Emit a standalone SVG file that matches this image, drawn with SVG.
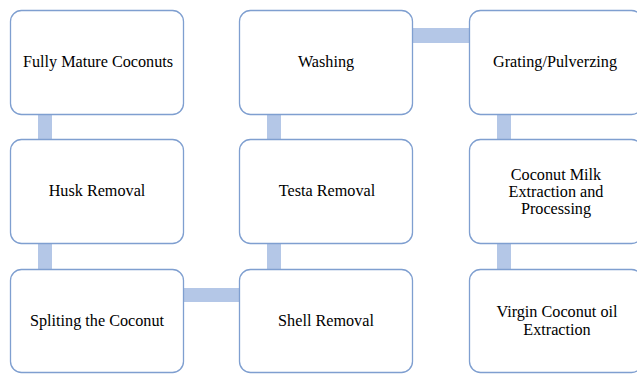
<svg xmlns="http://www.w3.org/2000/svg" width="637" height="374" viewBox="0 0 637 374">
<style>
.box{fill:#ffffff;stroke:#7f9fd0;stroke-width:1.3}
.lnk{fill:#b4c7e7}
.t{font-family:'Liberation Serif','DejaVu Serif',serif;font-size:16.2px;fill:#000;text-anchor:middle}
</style>
<rect width="637" height="374" fill="#ffffff"/>
<g id="connectors">
<rect class="lnk" x="38" y="115" width="14" height="25"/>
<rect class="lnk" x="38" y="244" width="14" height="26"/>
<rect class="lnk" x="183" y="288" width="57" height="14"/>
<rect class="lnk" x="267" y="244" width="14" height="26"/>
<rect class="lnk" x="267" y="115" width="14" height="25"/>
<rect class="lnk" x="413" y="28" width="57" height="15"/>
<rect class="lnk" x="497" y="115" width="14" height="25"/>
<rect class="lnk" x="497" y="244" width="14" height="26"/>
</g>
<g id="n1"><rect class="box" x="10.5" y="10.5" width="173" height="104" rx="11"/><text class="t" x="98" y="67">Fully Mature Coconuts</text></g>
<g id="n2"><rect class="box" x="10.5" y="139.5" width="173" height="104" rx="11"/><text class="t" x="97" y="196">Husk Removal</text></g>
<g id="n3"><rect class="box" x="10.5" y="269.5" width="173" height="103" rx="11"/><text class="t" x="97" y="326">Spliting the Coconut</text></g>
<g id="n4"><rect class="box" x="239.5" y="269.5" width="173" height="103" rx="11"/><text class="t" x="326" y="326">Shell Removal</text></g>
<g id="n5"><rect class="box" x="239.5" y="139.5" width="173" height="104" rx="11"/><text class="t" x="327" y="196">Testa Removal</text></g>
<g id="n6"><rect class="box" x="239.5" y="10.5" width="173" height="104" rx="11"/><text class="t" x="326" y="67">Washing</text></g>
<g id="n7"><rect class="box" x="469.5" y="10.5" width="173" height="104" rx="11"/><text class="t" x="555" y="67">Grating/Pulverzing</text></g>
<g id="n8"><rect class="box" x="469.5" y="139.5" width="173" height="104" rx="11"/><text class="t" x="556" y="180">Coconut Milk</text><text class="t" x="556" y="197">Extraction and</text><text class="t" x="556" y="214">Processing</text></g>
<g id="n9"><rect class="box" x="469.5" y="269.5" width="173" height="103" rx="11"/><text class="t" x="557" y="317">Virgin Coconut oil</text><text class="t" x="557" y="335">Extraction</text></g>
</svg>
